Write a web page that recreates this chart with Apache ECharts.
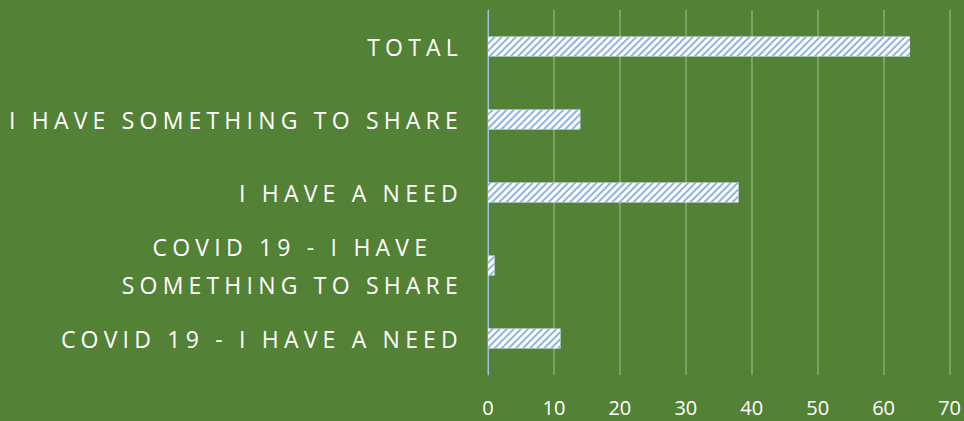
<!DOCTYPE html>
<html>
<head>
<meta charset="utf-8">
<script src="https://cdn.jsdelivr.net/npm/echarts@6/dist/echarts.min.js"></script>
<style>
  html, body { margin: 0; padding: 0; background: #538135; }
  #chart { width: 964px; height: 421px; }
  /* wide tracking on the category labels, like the original */
  #chart text.cat { letter-spacing: 5.2px; }
</style>
</head>
<body>
<div id="chart"></div>
<script>
  // categories from bottom to top
  const categories = [
    'COVID 19 - I HAVE A NEED',
    'COVID 19 - I HAVE\nSOMETHING TO SHARE',
    'I HAVE A NEED',
    'I HAVE SOMETHING TO SHARE',
    'TOTAL'
  ];
  const values = [11, 1, 38, 14, 64];
  const xTicks = [0, 10, 20, 30, 40, 50, 60, 70];

  const myChart = echarts.init(document.getElementById('chart'), null, { renderer: 'svg' });
  const options = {
    backgroundColor: '#538135',
    animation: false,
    grid: { left: 488, right: 14, top: 10, bottom: 46 },
    xAxis: {
      type: 'value',
      min: xTicks[0],
      max: xTicks[xTicks.length - 1],
      interval: 10,
      axisLine: { show: false },
      axisTick: { show: false },
      splitLine: { lineStyle: { color: 'rgba(255,255,255,0.25)', width: 2 } },
      axisLabel: { color: '#fff', fontSize: 20, fontFamily: 'Open Sans', margin: 22 }
    },
    yAxis: {
      type: 'category',
      data: categories,
      axisLine: { lineStyle: { color: '#9dc3e6', width: 1 } },
      axisTick: { show: false },
      axisLabel: {
        color: '#fff', fontSize: 23, fontFamily: 'Open Sans', lineHeight: 38, margin: 25
      }
    },
    series: [{
      type: 'bar',
      data: values,
      barWidth: 20,
      itemStyle: {
        color: '#ffffff',
        decal: {
          symbol: 'rect',
          symbolSize: 1,
          dashArrayX: [1, 0],
          dashArrayY: [1.3, 2.4],
          rotation: -Math.PI / 4,
          color: '#8db4e2'
        }
      }
    }]
  };
  myChart.setOption(options, true);

  // tag the category label texts so the css letter-spacing hits only them
  const cats = [];
  document.querySelectorAll('#chart text').forEach(function (t) {
    if (/[A-Z]/.test(t.textContent)) {
      t.classList.add('cat');
      cats.push(t);
    }
  });

  // wrapped label: excel centres the lines inside the block, so push the short line left
  categories.forEach(function (c) {
    const lines = c.split('\n');
    if (lines.length < 2) return;
    const els = lines.map(function (l) {
      return cats.find(function (t) { return t.textContent.trim() === l; });
    });
    if (els.some(function (e) { return !e; })) return;
    const widths = els.map(function (e) { return e.getBBox().width; });
    const maxW = Math.max.apply(null, widths);
    els.forEach(function (e, i) {
      const dx = (maxW - widths[i]) / 2;
      e.setAttribute('x', parseFloat(e.getAttribute('x') || 0) - dx);
    });
  });
</script>
</body>
</html>
